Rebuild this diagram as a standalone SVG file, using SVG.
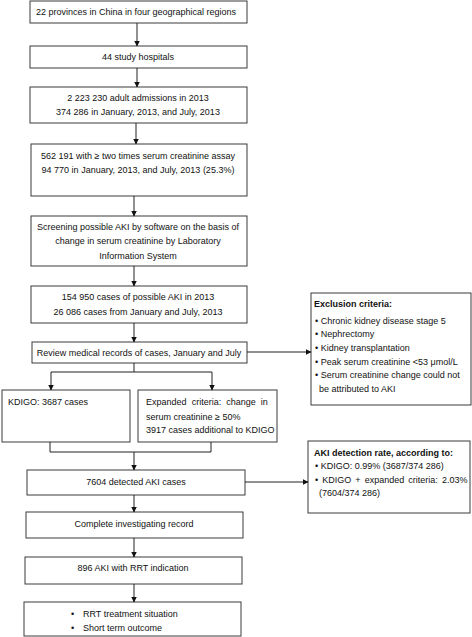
<svg xmlns="http://www.w3.org/2000/svg" width="472" height="637" viewBox="0 0 472 637">
<defs>
<marker id="ah" markerWidth="6" markerHeight="6" refX="5.5" refY="3" orient="auto" markerUnits="userSpaceOnUse">
<path d="M0,0 L6,3 L0,6 Z" fill="#111"/>
</marker>
</defs>
<style>
.box{fill:#fff;stroke:#3a3a3a;stroke-width:1}
.t{font-family:"Liberation Sans",Arial,sans-serif;font-size:9px;fill:#111}
.c{text-anchor:middle}
.b{font-weight:bold}
.ln{fill:none;stroke:#222;stroke-width:1}
.ar{fill:none;stroke:#222;stroke-width:1;marker-end:url(#ah)}
</style>
<rect width="472" height="637" fill="#fff"/>
<g id="n1"><rect class="box" x="30" y="1" width="217" height="22"/><text class="t c" x="136" y="15">22 provinces in China in four geographical regions</text></g>
<g id="n2"><rect class="box" x="30" y="46" width="217" height="22"/><text class="t c" x="138" y="60">44 study hospitals</text></g>
<g id="n3"><rect class="box" x="30" y="87" width="217" height="36"/><text class="t c" x="138" y="101">2 223 230 adult admissions in 2013</text><text class="t c" x="138" y="115">374 286 in January, 2013, and July, 2013</text></g>
<g id="n4"><rect class="box" x="31" y="144" width="216" height="52"/><text class="t c" x="138" y="159">562 191 with ≥ two times serum creatinine assay</text><text class="t c" x="138" y="173">94 770 in January, 2013, and July, 2013 (25.3%)</text></g>
<g id="n5"><rect class="box" x="31" y="216" width="216" height="50"/><text class="t c" x="138" y="230">Screening possible AKI by software on the basis of</text><text class="t c" x="138" y="244">change in serum creatinine by Laboratory</text><text class="t c" x="138" y="259">Information System</text></g>
<g id="n6"><rect class="box" x="31" y="286" width="216" height="37"/><text class="t c" x="138" y="300">154 950 cases of possible AKI in 2013</text><text class="t c" x="138" y="315">26 086 cases from January and July, 2013</text></g>
<g id="n7"><rect class="box" x="32" y="342" width="215" height="21"/><text class="t c" x="139" y="356">Review medical records of cases, January and July</text></g>
<g id="n8"><rect class="box" x="2" y="390" width="128" height="52"/><text class="t" x="8" y="405">KDIGO: 3687 cases</text></g>
<g id="n9"><rect class="box" x="138" y="390" width="139" height="52"/><text class="t" x="146" y="405" word-spacing="2.6">Expanded criteria: change in</text><text class="t" x="146" y="420">serum creatinine ≥ 50%</text><text class="t" x="146" y="433">3917 cases additional to KDIGO</text></g>
<g id="n10"><rect class="box" x="27" y="470" width="218" height="25"/><text class="t c" x="136" y="485">7604 detected AKI cases</text></g>
<g id="n11"><rect class="box" x="26" y="512" width="217" height="26"/><text class="t c" x="134" y="527">Complete investigating record</text></g>
<g id="n12"><rect class="box" x="25" y="557" width="217" height="27"/><text class="t c" x="133" y="571">896 AKI with RRT indication</text></g>
<g id="n13"><rect class="box" x="24" y="602" width="217" height="34"/><text class="t" y="617"><tspan x="71">•</tspan><tspan x="83">RRT treatment situation</tspan></text><text class="t" y="631"><tspan x="71">•</tspan><tspan x="83">Short term outcome</tspan></text></g>
<g id="n14"><rect class="box" x="311" y="293" width="160" height="112"/>
<text class="t b" x="314" y="307">Exclusion criteria:</text>
<text class="t" x="315" y="324">• Chronic kidney disease stage 5</text>
<text class="t" x="315" y="337">• Nephrectomy</text>
<text class="t" x="315" y="351">• Kidney transplantation</text>
<text class="t" x="315" y="365">• Peak serum creatinine &lt;53 μmol/L</text>
<text class="t" x="315" y="378">• Serum creatinine change could not</text>
<text class="t" x="319" y="392">be attributed to AKI</text></g>
<g id="n15"><rect class="box" x="308" y="441" width="162" height="72"/>
<text class="t b" x="314" y="456">AKI detection rate, according to:</text>
<text class="t" x="315" y="469">• KDIGO: 0.99% (3687/374 286)</text>
<text class="t" x="315" y="483" word-spacing="1.6">• KDIGO + expanded criteria: 2.03%</text>
<text class="t" x="319" y="496">(7604/374 286)</text></g>
<g id="connectors">
<line class="ar" x1="137" y1="23" x2="137" y2="46"/>
<line class="ar" x1="137" y1="68" x2="137" y2="87"/>
<line class="ar" x1="136" y1="123" x2="136" y2="144"/>
<line class="ar" x1="134" y1="196" x2="134" y2="216"/>
<line class="ar" x1="134" y1="266" x2="134" y2="286"/>
<line class="ar" x1="134" y1="323" x2="134" y2="342"/>
<line class="ar" x1="247" y1="352" x2="311" y2="352"/>
<polyline class="ln" points="134,363 134,372"/>
<polyline class="ln" points="51,372 212,372"/>
<line class="ar" x1="51" y1="372" x2="51" y2="390"/>
<line class="ar" x1="212" y1="372" x2="212" y2="390"/>
<polyline class="ln" points="50,442 50,452 211,452 211,442"/>
<line class="ar" x1="134" y1="452" x2="134" y2="470"/>
<line class="ar" x1="245" y1="482" x2="308" y2="482"/>
<line class="ar" x1="134" y1="495" x2="134" y2="512"/>
<line class="ar" x1="134" y1="538" x2="134" y2="557"/>
<line class="ar" x1="134" y1="584" x2="134" y2="602"/>
</g>
</svg>
